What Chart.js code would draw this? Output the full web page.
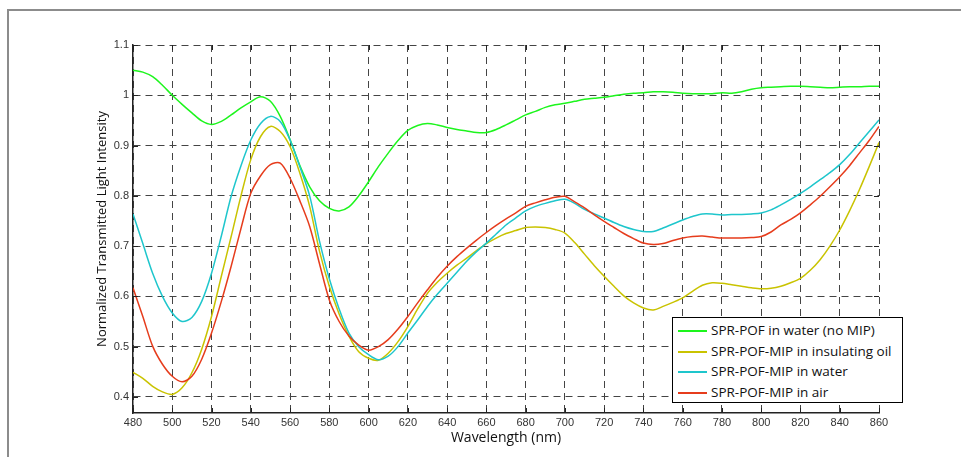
<!DOCTYPE html>
<html>
<head>
  <meta charset="utf-8">
  <title>Normalized Transmitted Light Intensity vs Wavelength</title>
  <script src="https://cdn.jsdelivr.net/npm/chart.js"></script>
  <style>
    html, body { margin: 0; padding: 0; background: #fff; overflow: hidden; }
    .wrap { position: relative; width: 961px; height: 457px; }
    /* grey figure frame, only top and left edges are visible */
    .frame {
      position: absolute; left: 7px; top: 9px; width: 1000px; height: 500px;
      border-top: 2px solid #8c8c8c; border-left: 2px solid #8c8c8c;
    }
    canvas { position: absolute; left: 0; top: 0; }
    .legend {
      position: absolute; left: 672px; top: 317px; width: 231px; height: 86px;
      background: #fff; border: 1px solid #000;
      font-family: "Open Sans", sans-serif; font-size: 13.5px; color: #111;
      padding-top: 2px; box-sizing: border-box;
    }
    .legend div { height: 20.5px; line-height: 20.5px; white-space: nowrap; }
    .legend span.swatch {
      display: inline-block; width: 29px; height: 2px;
      vertical-align: middle; margin: 0 4px 0 5px;
    }
  </style>
</head>
<body>
<div class="wrap">
  <div class="frame"></div>
  <canvas id="chart" width="961" height="457"></canvas>
  <div class="legend" id="legend"></div>
</div>

<script>
  // wavelength axis (nm)
  const wavelengths = [
    480, 485, 490, 495, 500, 505, 510, 515, 520, 525, 530, 535, 540, 545, 550, 555,
    560, 565, 570, 575, 580, 585, 590, 595, 600, 605, 610, 615, 620, 625, 630, 635,
    640, 645, 650, 655, 660, 665, 670, 675, 680, 685, 690, 695, 700, 705, 710, 715,
    720, 725, 730, 735, 740, 745, 750, 755, 760, 765, 770, 775, 780, 785, 790, 795,
    800, 805, 810, 815, 820, 825, 830, 835, 840, 845, 850, 855, 860
  ];

  const waterNoMip = [
    1.050, 1.046, 1.037, 1.020, 1.000, 0.982, 0.965, 0.949, 0.942, 0.948, 0.961, 0.975, 0.987, 0.997, 0.988, 0.958,
    0.912, 0.860, 0.818, 0.790, 0.775, 0.770, 0.778, 0.800, 0.828, 0.858, 0.885, 0.910, 0.930, 0.940, 0.944, 0.941,
    0.936, 0.932, 0.929, 0.926, 0.926, 0.932, 0.941, 0.951, 0.961, 0.968, 0.976, 0.981, 0.984, 0.988, 0.992, 0.994,
    0.996, 0.999, 1.002, 1.004, 1.005, 1.007, 1.007, 1.006, 1.004, 1.003, 1.003, 1.003, 1.005, 1.004, 1.007, 1.012,
    1.015, 1.016, 1.017, 1.018, 1.018, 1.017, 1.016, 1.015, 1.016, 1.017, 1.017, 1.018, 1.018
  ];

  const mipOil = [
    0.449, 0.437, 0.421, 0.410, 0.405, 0.418, 0.448, 0.495, 0.560, 0.640, 0.719, 0.800, 0.872, 0.918, 0.938, 0.928,
    0.898, 0.845, 0.779, 0.690, 0.620, 0.565, 0.521, 0.490, 0.477, 0.473, 0.487, 0.510, 0.540, 0.575, 0.606, 0.628,
    0.646, 0.662, 0.676, 0.691, 0.705, 0.716, 0.725, 0.731, 0.737, 0.738, 0.737, 0.733, 0.726, 0.707, 0.684, 0.661,
    0.640, 0.620, 0.601, 0.587, 0.577, 0.573, 0.580, 0.588, 0.597, 0.610, 0.622, 0.627, 0.626, 0.623, 0.620, 0.617,
    0.615, 0.616, 0.620, 0.627, 0.636, 0.652, 0.673, 0.700, 0.732, 0.770, 0.812, 0.858, 0.906
  ];

  const mipWater = [
    0.764, 0.705, 0.646, 0.600, 0.567, 0.550, 0.558, 0.590, 0.646, 0.720, 0.799, 0.860, 0.911, 0.944, 0.958, 0.948,
    0.911, 0.858, 0.800, 0.710, 0.635, 0.575, 0.527, 0.500, 0.484, 0.474, 0.481, 0.500, 0.527, 0.553, 0.580, 0.604,
    0.626, 0.648, 0.670, 0.689, 0.706, 0.724, 0.742, 0.756, 0.770, 0.779, 0.785, 0.790, 0.793, 0.785, 0.773, 0.764,
    0.756, 0.747, 0.739, 0.733, 0.729, 0.729, 0.736, 0.744, 0.752, 0.759, 0.764, 0.764, 0.762, 0.763, 0.763, 0.764,
    0.766, 0.772, 0.782, 0.793, 0.805, 0.818, 0.832, 0.846, 0.862, 0.882, 0.905, 0.928, 0.951
  ];

  const mipAir = [
    0.617, 0.560, 0.501, 0.465, 0.441, 0.430, 0.441, 0.475, 0.527, 0.590, 0.660, 0.735, 0.805, 0.840, 0.862, 0.865,
    0.835, 0.790, 0.739, 0.665, 0.593, 0.550, 0.521, 0.503, 0.493, 0.500, 0.514, 0.535, 0.560, 0.587, 0.613, 0.638,
    0.660, 0.679, 0.696, 0.712, 0.727, 0.741, 0.754, 0.766, 0.779, 0.786, 0.792, 0.797, 0.799, 0.788, 0.776, 0.762,
    0.749, 0.737, 0.725, 0.715, 0.706, 0.703, 0.705, 0.711, 0.716, 0.719, 0.720, 0.718, 0.716, 0.716, 0.716, 0.717,
    0.719, 0.728, 0.742, 0.753, 0.766, 0.782, 0.799, 0.818, 0.838, 0.860, 0.885, 0.910, 0.938
  ];

  const xTicks = [480, 500, 520, 540, 560, 580, 600, 620, 640, 660, 680, 700, 720, 740, 760, 780, 800, 820, 840, 860];
  const yTicks = [0.4, 0.5, 0.6, 0.7, 0.8, 0.9, 1.0, 1.1];

  const seriesLabels = [
    'SPR-POF in water (no MIP)',
    'SPR-POF-MIP in insulating oil',
    'SPR-POF-MIP in water',
    'SPR-POF-MIP in air'
  ];
  const seriesValues = [waterNoMip, mipOil, mipWater, mipAir];
  const seriesColors = ['#1df51d', '#c9c300', '#1ec6cc', '#e63c1c'];

  const datasets = seriesValues.map((vals, i) => ({
    label: seriesLabels[i],
    data: vals.map((v, k) => ({ x: wavelengths[k], y: v })),
    borderColor: seriesColors[i],
    backgroundColor: seriesColors[i],
    borderWidth: 1.5,
    pointRadius: 0,
    tension: 0.3,
    fill: false,
    order: seriesValues.length - i   // later series drawn on top, like the original
  }));

  // small inward tick marks on all four sides of the axes box
  const innerTicks = {
    id: 'innerTicks',
    afterDatasetsDraw(chart) {
      const { ctx, chartArea: a, scales: { x, y } } = chart;
      ctx.save();
      ctx.strokeStyle = '#222';
      ctx.lineWidth = 1;
      ctx.beginPath();
      xTicks.forEach(t => {
        const px = Math.round(x.getPixelForValue(t)) + 0.5;
        ctx.moveTo(px, a.bottom); ctx.lineTo(px, a.bottom - 5);
        ctx.moveTo(px, a.top); ctx.lineTo(px, a.top + 5);
      });
      yTicks.forEach(t => {
        const py = Math.round(y.getPixelForValue(t)) + 0.5;
        ctx.moveTo(a.left, py); ctx.lineTo(a.left + 5, py);
        ctx.moveTo(a.right, py); ctx.lineTo(a.right - 5, py);
      });
      ctx.stroke();
      ctx.restore();
    }
  };

  new Chart(document.getElementById('chart').getContext('2d'), {
    type: 'line',
    data: { datasets },
    plugins: [innerTicks],
    options: {
      responsive: false,
      animation: false,
      layout: { padding: { left: 94, top: 45, right: 82, bottom: 11 } },
      plugins: { legend: { display: false }, tooltip: { enabled: false } },
      scales: {
        x: {
          type: 'linear', min: 480, max: 860,
          afterBuildTicks: s => { s.ticks = xTicks.map(v => ({ value: v })); },
          afterFit: s => { s.height = 33; },
          ticks: { padding: 3, color: '#333', font: { family: 'Liberation Sans', size: 11 } },
          grid: { color: '#444', lineWidth: 1, drawTicks: false },
          border: { color: '#222', width: 1.5, dash: [7, 5] },
          title: {
            display: true, text: 'Wavelength (nm)', color: '#111',
            padding: { top: 0, bottom: 0 },
            font: { family: 'Open Sans', size: 14 }
          }
        },
        y: {
          type: 'linear', min: 0.368, max: 1.1,
          afterBuildTicks: s => { s.ticks = yTicks.map(v => ({ value: v })); },
          afterFit: s => { s.width = 39; },
          ticks: {
            padding: 4, color: '#333', font: { family: 'Liberation Sans', size: 11 },
            callback: v => String(+v.toFixed(2))
          },
          grid: { color: '#444', lineWidth: 1, drawTicks: false },
          border: { color: '#222', width: 1.5, dash: [7, 5] },
          title: {
            display: true, text: 'Normalized Transmitted Light Intensity', color: '#111',
            padding: { top: 0, bottom: 0 },
            font: { family: 'Open Sans', size: 13 }
          }
        }
      }
    }
  });

  // legend box drawn as html, from the same labels/colours
  const legendEl = document.getElementById('legend');
  seriesLabels.forEach((lab, i) => {
    const row = document.createElement('div');
    const sw = document.createElement('span');
    sw.className = 'swatch';
    sw.style.background = seriesColors[i];
    row.appendChild(sw);
    row.appendChild(document.createTextNode(lab));
    legendEl.appendChild(row);
  });
</script>
</body>
</html>
